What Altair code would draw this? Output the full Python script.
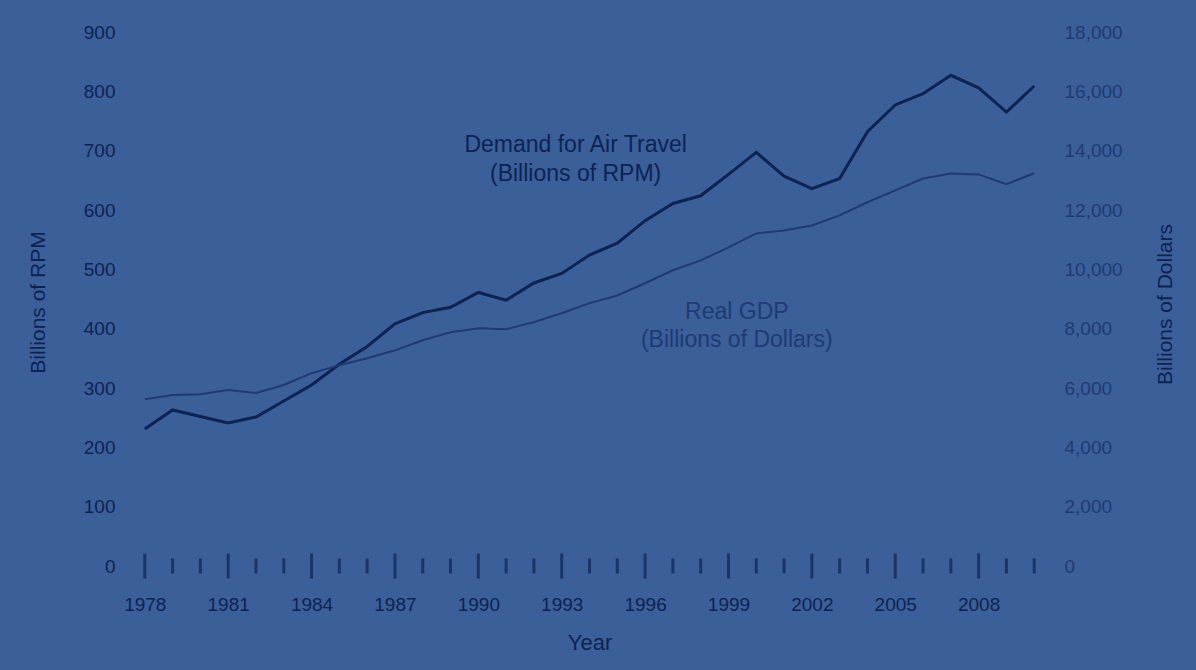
import altair as alt
import pandas as pd

# Annual series, 1978-2010
years = list(range(1978, 2011))
rpm = [231, 263, 252, 241, 251, 278, 305, 340, 370, 408, 427, 436, 461, 448, 477,
       493, 524, 544, 582, 611, 624, 660, 697, 657, 636, 653, 732, 777, 796, 827,
       806, 765, 809]
gdp = [5620, 5760, 5790, 5930, 5830, 6100, 6500, 6770, 7000, 7270, 7610, 7880,
       8010, 7980, 8220, 8520, 8860, 9120, 9530, 9970, 10300, 10740, 11210, 11310,
       11480, 11820, 12260, 12660, 13060, 13230, 13200, 12870, 13240]

# Year labels shown every third year
year_labels = list(range(1978, 2011, 3))
rpm_ticks = list(range(0, 901, 100))
gdp_ticks = list(range(0, 18001, 2000))

# Series annotations: anchor year, anchor value (RPM scale) of the first line, text lines
label_names = ["rpm", "gdp"]
label_years = [1993.5, 1999.3]
label_values = [709, 428]
label_lines = [["Demand for Air Travel", "(Billions of RPM)"],
               ["Real GDP", "(Billions of Dollars)"]]

df = pd.DataFrame({"year": years, "rpm": rpm, "gdp": gdp})
labels = pd.DataFrame({"name": label_names, "year": label_years,
                       "value": label_values, "text": label_lines})

BG = "#3a5f99"
DARK = "#0d2453"
GDP_COL = "#1d3c75"
FONT = "Liberation Sans"
TICK_FS = 19
TITLE_FS = 21

rpm_scale = alt.Scale(domain=[0, 900], nice=False)

x_enc = alt.X(
    "year:Q",
    scale=alt.Scale(domain=[1977, 2011], nice=False, zero=False),
    axis=alt.Axis(
        values=year_labels, format="d", ticks=False, domain=False, grid=False,
        labelPadding=29, labelFontSize=TICK_FS, labelColor=DARK, labelFont=FONT,
        title="Year", titleFontSize=22, titleColor=DARK, titleFont=FONT,
        titleFontWeight="normal", titleY=76, titleBaseline="middle",
    ),
)

rpm_line = alt.Chart(df).mark_line(color=DARK, strokeWidth=3).encode(
    x=x_enc,
    y=alt.Y(
        "rpm:Q",
        scale=rpm_scale,
        axis=alt.Axis(
            values=rpm_ticks, ticks=False, domain=False, grid=False,
            labelPadding=2, labelFontSize=TICK_FS, labelColor=DARK, labelFont=FONT,
            title="Billions of RPM", titleFontSize=TITLE_FS, titleColor=DARK,
            titleFont=FONT, titleFontWeight="normal", titleAngle=270,
            titleX=-79, titleY=270, titleAlign="center", titleBaseline="middle",
        ),
    ),
)

gdp_line = alt.Chart(df).mark_line(color=GDP_COL, strokeWidth=2).encode(
    x=x_enc,
    y=alt.Y(
        "gdp:Q",
        scale=alt.Scale(domain=[0, 18000], nice=False),
        axis=alt.Axis(
            orient="right", values=gdp_ticks, format=",d", ticks=False,
            domain=False, grid=False, labelPadding=2, labelFontSize=TICK_FS,
            labelColor=GDP_COL, labelFont=FONT,
            title="Billions of Dollars", titleFontSize=TITLE_FS, titleColor=DARK,
            titleFont=FONT, titleFontWeight="normal", titleAngle=270,
            titleX=103, titleY=272, titleAlign="center", titleBaseline="middle",
        ),
    ),
)

# Year ticks straddling the zero line, longer every third year
year_ticks = alt.Chart(df).mark_tick(
    orient="vertical", thickness=3, color=DARK
).encode(
    x=x_enc,
    y=alt.Y(datum=0, scale=rpm_scale, axis=None),
    size=alt.condition("(datum.year - 1978) % 3 == 0", alt.value(25), alt.value(15)),
)

rpm_label = alt.Chart(labels).transform_filter("datum.name == 'rpm'").mark_text(
    font=FONT, fontSize=23, lineHeight=29, color=DARK,
    align="center", baseline="middle",
).encode(x=x_enc, y=alt.Y("value:Q", scale=rpm_scale, axis=None), text="text")

gdp_label = alt.Chart(labels).transform_filter("datum.name == 'gdp'").mark_text(
    font=FONT, fontSize=23, lineHeight=28, color=GDP_COL,
    align="center", baseline="middle",
).encode(x=x_enc, y=alt.Y("value:Q", scale=rpm_scale, axis=None), text="text")

chart = (
    alt.layer(rpm_line, gdp_line, year_ticks, rpm_label, gdp_label)
    .resolve_scale(y="independent")
    .properties(
        width=945, height=534, background=BG,
        autosize=alt.AutoSizeParams(type="none"),
        padding={"left": 117, "top": 32, "right": 134, "bottom": 104},
    )
    .configure_view(stroke=None)
)

chart.save("out.html", embed_options={"renderer": "svg", "actions": False})
